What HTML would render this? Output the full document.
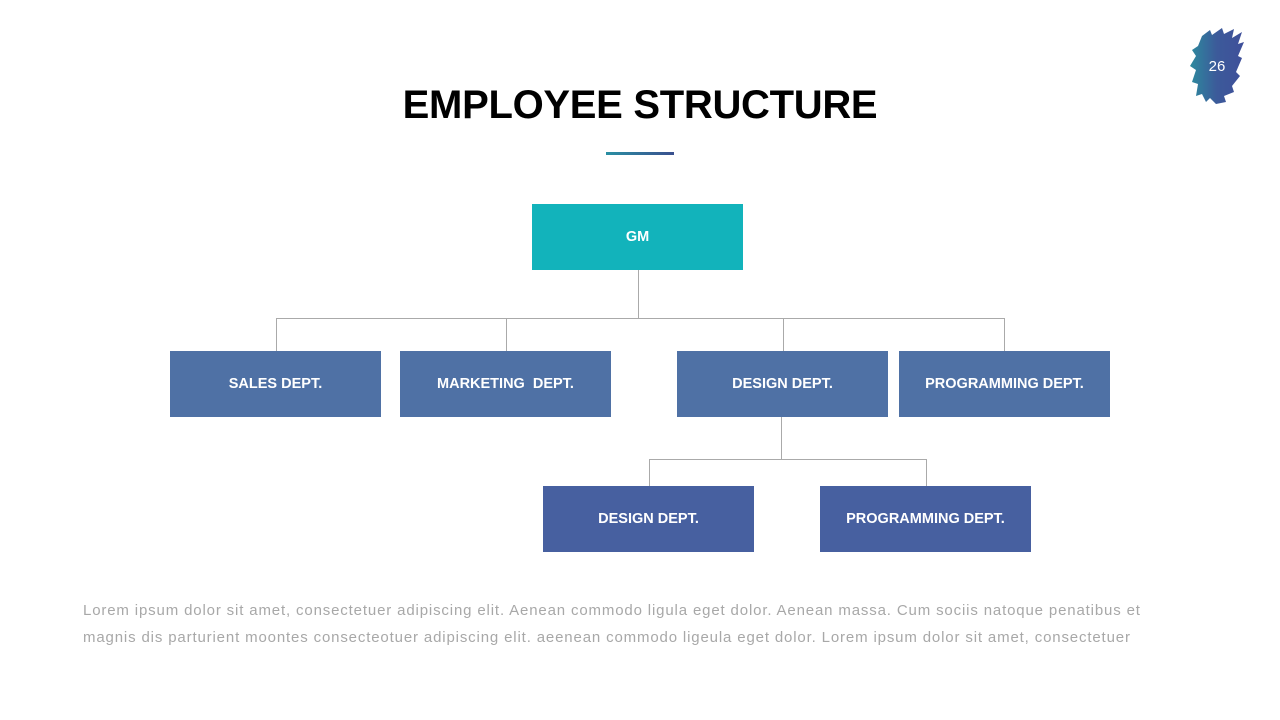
<!DOCTYPE html>
<html><head><meta charset="utf-8"><style>
body{margin:0;width:1280px;height:720px;background:#fff;position:relative;overflow:hidden;font-family:"Liberation Sans",sans-serif}
.b{position:absolute;color:#fff;font-weight:bold;font-size:14.5px;display:flex;align-items:center;justify-content:center;height:66px;width:211px;background:#4f71a5}
.l{position:absolute;background:#aaa}
.t{position:absolute;left:83px;width:1150px;color:#a8a8a8;font-size:15px;letter-spacing:0.85px;line-height:28px;white-space:nowrap}
</style></head><body>
<svg style="position:absolute;left:1188px;top:26px" width="60" height="82" viewBox="0 0 60 82">
<defs><linearGradient id="g" x1="0" x2="1"><stop offset="0" stop-color="#2d8a9e"/><stop offset="0.5" stop-color="#3c5a9a"/><stop offset="1" stop-color="#3f4f9a"/></linearGradient></defs>
<path d="M14 10 L22 4 L24 9 L34 2 L36 8 L46 3 L44 12 L54 6 L50 18 L56 16 L50 30 L54 32 L48 46 L52 50 L44 60 L46 66 L36 70 L38 76 L28 78 L22 72 L18 76 L14 68 L8 70 L10 58 L4 56 L8 44 L2 40 L8 30 L4 24 L10 20 Z" fill="url(#g)"/>
<text x="29" y="45" fill="#fff" font-size="15" text-anchor="middle" font-family="Liberation Sans">26</text></svg>
<div style="position:absolute;left:0;width:1280px;top:83px;text-align:center;font-size:40px;font-weight:bold;color:#000;letter-spacing:-0.3px">EMPLOYEE STRUCTURE</div>
<div style="position:absolute;left:606px;top:152px;width:68px;height:3px;background:linear-gradient(90deg,#2a8fa3,#3a4f8e)"></div>
<div class="b" style="left:532px;top:204px;background:#12b3bb">GM</div>
<div class="l" style="left:638px;top:270px;width:1px;height:48px"></div>
<div class="l" style="left:276px;top:318px;width:729px;height:1px"></div>
<div class="l" style="left:276px;top:318px;width:1px;height:33px"></div>
<div class="l" style="left:506px;top:318px;width:1px;height:33px"></div>
<div class="l" style="left:783px;top:318px;width:1px;height:33px"></div>
<div class="l" style="left:1004px;top:318px;width:1px;height:33px"></div>
<div class="b" style="left:170px;top:351px">SALES DEPT.</div>
<div class="b" style="left:400px;top:351px">MARKETING&nbsp; DEPT.</div>
<div class="b" style="left:677px;top:351px">DESIGN DEPT.</div>
<div class="b" style="left:899px;top:351px">PROGRAMMING DEPT.</div>
<div class="l" style="left:781px;top:417px;width:1px;height:42px"></div>
<div class="l" style="left:649px;top:459px;width:278px;height:1px"></div>
<div class="l" style="left:649px;top:459px;width:1px;height:27px"></div>
<div class="l" style="left:926px;top:459px;width:1px;height:27px"></div>
<div class="b" style="left:543px;top:486px;background:#4760a0">DESIGN DEPT.</div>
<div class="b" style="left:820px;top:486px;background:#4760a0">PROGRAMMING DEPT.</div>
<div class="t" style="top:597px">Lorem ipsum dolor sit amet, consectetuer adipiscing elit. Aenean commodo ligula eget dolor. Aenean massa. Cum sociis natoque penatibus et</div>
<div class="t" style="top:624px">magnis dis parturient moontes consecteotuer adipiscing elit. aeenean commodo ligeula eget dolor. Lorem ipsum dolor sit amet, consectetuer</div>
</body></html>
